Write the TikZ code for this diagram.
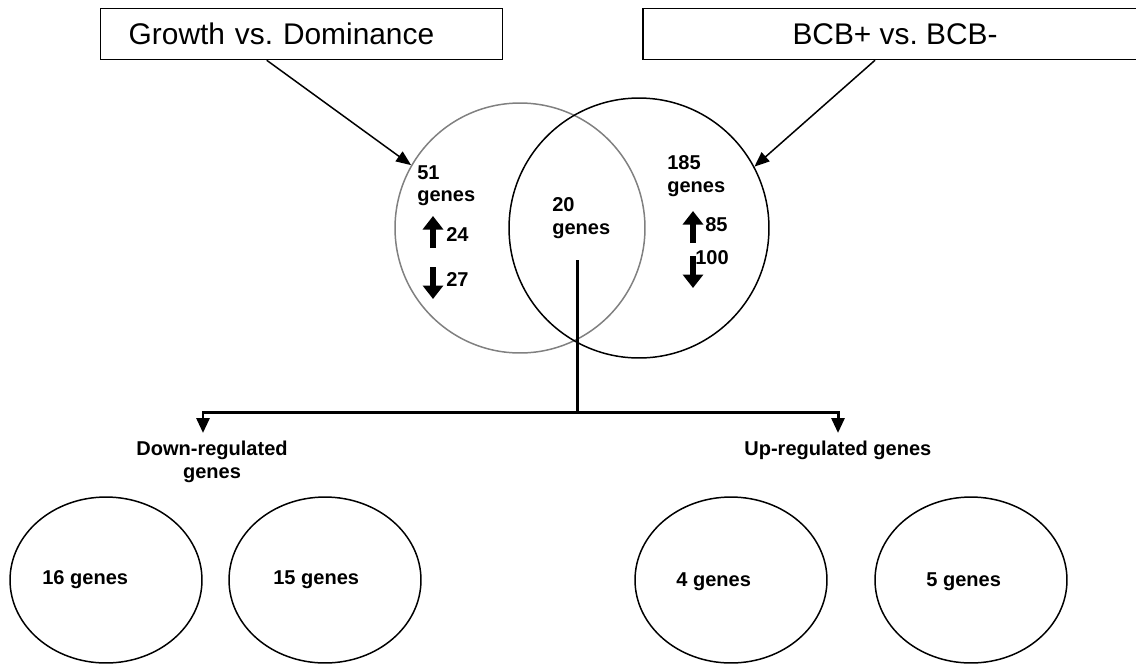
\documentclass[tikz,border=0pt]{standalone}
\usepackage{fontspec}
\setmainfont{Liberation Sans}
\usepackage{tikz}
\usetikzlibrary{arrows.meta,calc,positioning,shapes.geometric}
\definecolor{ringgray}{gray}{0.5}
\frenchspacing

\begin{document}
\begin{tikzpicture}[x=0.02cm,y=-0.02cm,
    titlebox/.style={draw,line width=0.85pt,minimum height=1.02cm,inner ysep=0pt,
      font=\fontsize{17}{20}\selectfont},
    venn/.style={circle,draw,line width=0.85pt,inner sep=0pt},
    setbox/.style={ellipse,draw,line width=0.85pt,inner sep=0pt,minimum width=3.84cm,minimum height=3.32cm},
    count/.style={inner sep=0pt,align=left,font=\bfseries\fontsize{11.4}{13}\selectfont},
    conn/.style={line width=0.85pt,-{Triangle[length=0.3cm,width=0.24cm]}},
    tree/.style={line width=1.7pt},
    bigup/.style={line width=2.9pt,-{Triangle[length=0.27cm,width=0.4cm]}}]
        \useasboundingbox (0,0) rectangle (1136,664);
        \clip (0,0) rectangle (1136,664);
        %Boxes
        \node[titlebox,anchor=west,minimum width=8.04cm,inner xsep=0.56cm,text width=6.92cm,align=left]
          (gd) at (100,34) {Growth vs. Dominance};
        \node[titlebox,minimum width=10.08cm] (bcb) at (895,34) {BCB+ vs. BCB-};
        %Venn
        \node[venn,draw=ringgray,minimum size=5cm] (venL) at (520,228) {};
        \node[venn,minimum size=5.2cm] (venR) at (639,228) {};
        \draw[conn] ($(gd.south)+(-35,0)$) -- (venL.150);
        \draw[conn] ($(bcb.south)+(-20,0)$) -- (venR.28);
        %Counts
        \node[count,anchor=north west] (nL) at (417,165) {51\\genes};
        \node[count,anchor=north west] (nM) at (552,197) {20\\genes};
        \node[count,anchor=north west] (nR) at (667,155) {185\\genes};
        \node[count,anchor=north west] (upL) at (446,227) {24};
        \node[count,anchor=north west] (dnL) at (446,272) {27};
        \node[count,anchor=north west] (upR) at (705,217) {85};
        \node[count,anchor=north west] (dnR) at (695,250) {100};
        \coordinate (a1) at (433,248); \coordinate (a2) at (433,216);
        \coordinate (a3) at (433,267); \coordinate (a4) at (433,299);
        \coordinate (b1) at (693,243); \coordinate (b2) at (693,211);
        \coordinate (b3) at (693,256); \coordinate (b4) at (693,288);
        \draw[bigup] (a1) -- (a2);
        \draw[bigup] (a3) -- (a4);
        \draw[bigup] (b1) -- (b2);
        \draw[bigup] (b3) -- (b4);
        %Split
        \coordinate (stem) at (577,260);
        \coordinate (fork) at (577,412);
        \coordinate (dnTip) at (203,433);
        \coordinate (upTip) at (838,433);
        \draw[tree] (stem) -- (fork);
        \draw[tree,-{Triangle[length=0.3cm,width=0.26cm]}] (fork) -| (dnTip);
        \draw[tree,-{Triangle[length=0.3cm,width=0.26cm]}] (fork) -| (upTip);
        \node[count,anchor=north,align=center] (down) at (212,441) {Down-regulated\\genes};
        \node[count,anchor=north west] (up) at (744,441) {Up-regulated genes};
        %Subsets
        \node[setbox] (s1) at (106,580) {};
        \node[setbox] (s2) at (325,580) {};
        \node[setbox] (s3) at (731,580) {};
        \node[setbox] (s4) at (971,580) {};
        \node[count,anchor=north west] at (42,570) {16 genes};
        \node[count,anchor=north west] at (273,570) {15 genes};
        \node[count,anchor=north west] at (676,572) {4 genes};
        \node[count,anchor=north west] at (926,572) {5 genes};
      \end{tikzpicture}
\end{document}
